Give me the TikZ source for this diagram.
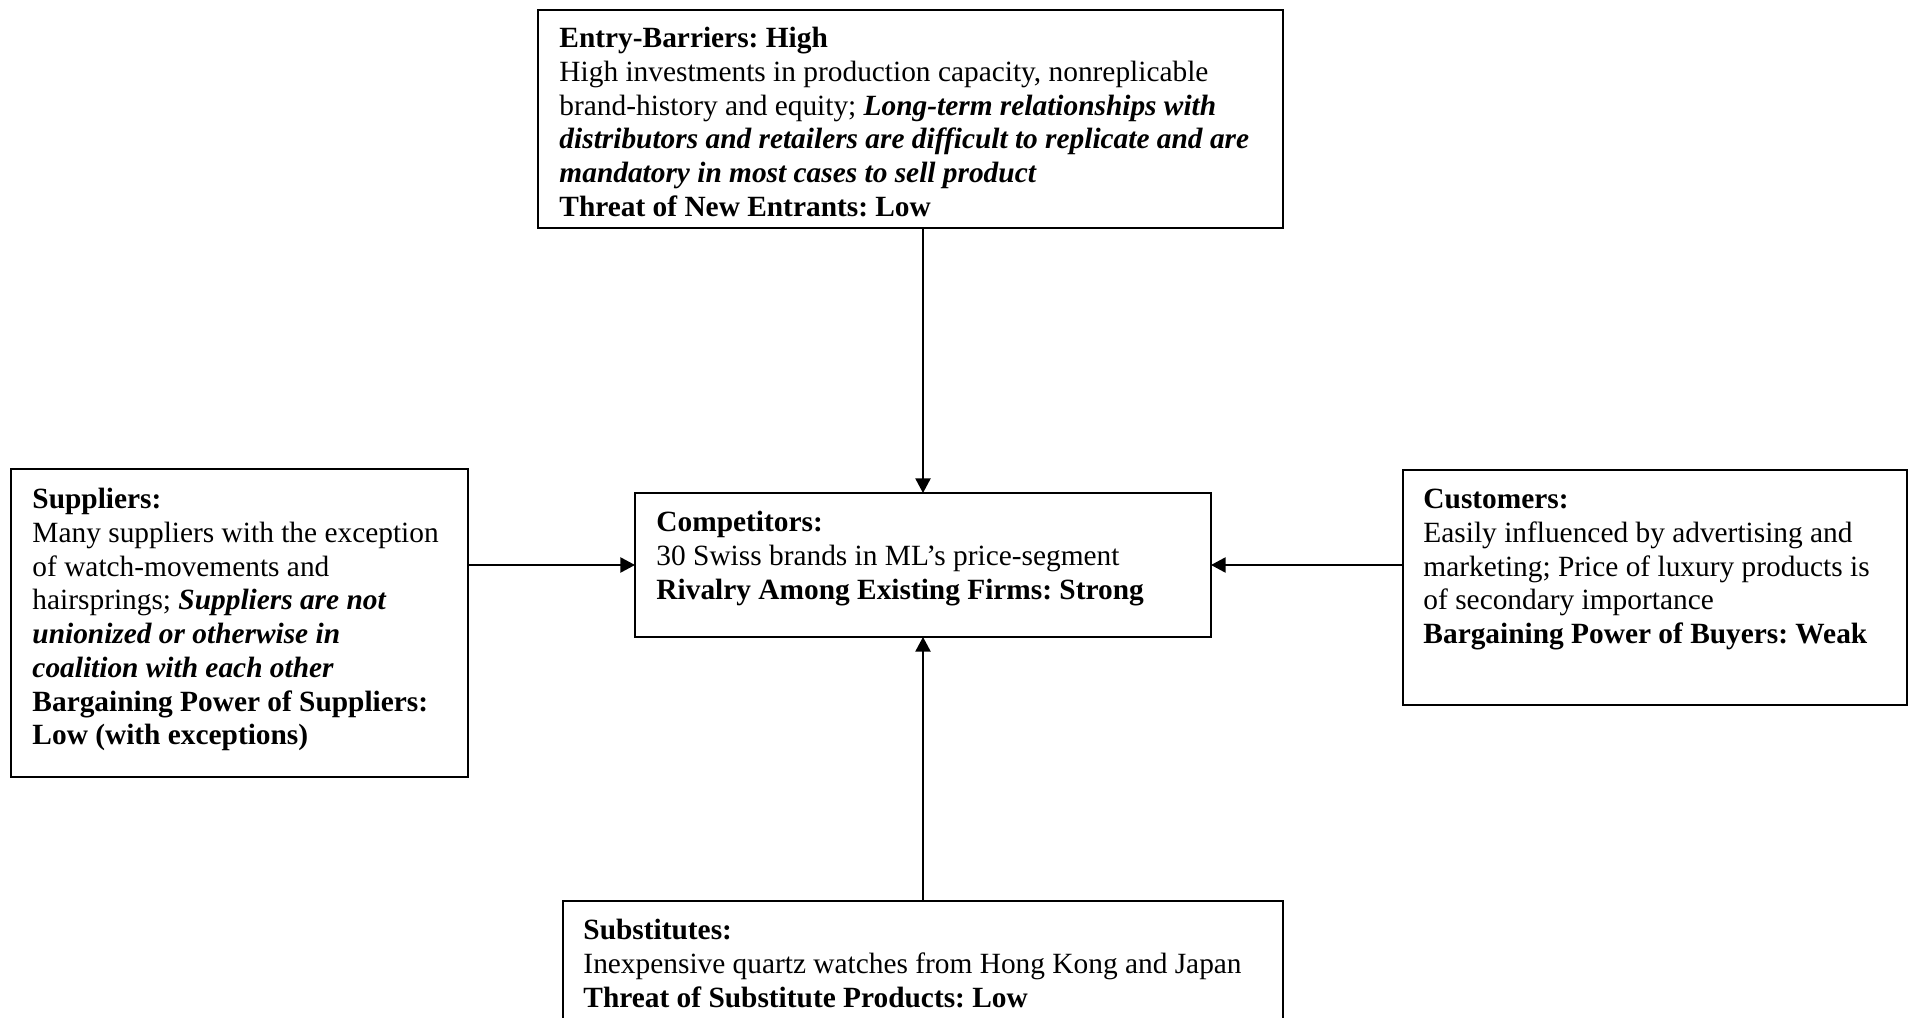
\documentclass[tikz,border=0pt]{standalone}
\usepackage{fontspec}
\setmainfont{Liberation Serif}
\usetikzlibrary{arrows.meta}
\frenchspacing
\begin{document}
\begin{tikzpicture}[x=0.412pt,y=-0.412pt,
  boxshape/.style 2 args={draw=black,line width=1pt,fill=white,outer sep=0pt,inner sep=0pt,
    minimum width={#1*0.412pt},minimum height={#2*0.412pt}},
  boxtext/.style={anchor=north west,inner sep=0pt,align=left,
    font=\fontsize{12.1}{13.9}\selectfont\frenchspacing},
  link/.style={line width=0.8pt,-{Triangle[width=6.2pt,length=6pt]}}
]
\clip (0,0) rectangle (1912,1018);
\fill[white] (0,0) rectangle (1912,1018);

% boxes
\node[boxshape={745}{218}] (ent) at (910.5,119) {};
\node[boxshape={457}{308}] (sup) at (239.5,623) {};
\node[boxshape={576}{144}] (comp) at (923,565) {};
\node[boxshape={504}{235}] (cust) at (1655,587.5) {};
\node[boxshape={720}{160}] (sub) at (923,981) {};

% texts
\node[boxtext] (entT) at ([shift={(21,13.5)}]ent.north west) {\strut\textbf{Entry-Barriers: High}\\
High investments in production capacity, nonreplicable\\
brand-history and equity; \textbf{\textit{Long-term relationships with}}\\
\textbf{\textit{distributors and retailers are difficult to replicate and are}}\\
\textbf{\textit{mandatory in most cases to sell product}}\\
\textbf{Threat of New Entrants: Low}};

\node[boxtext] (supT) at ([shift={(21,15.5)}]sup.north west) {\strut\textbf{Suppliers:}\\
Many suppliers with the exception\\
of watch-movements and\\
hairsprings; \textbf{\textit{Suppliers are not}}\\
\textbf{\textit{unionized or otherwise in}}\\
\textbf{\textit{coalition with each other}}\\
\textbf{Bargaining Power of Suppliers:}\\
\textbf{Low (with exceptions)}};

\node[boxtext] (compT) at ([shift={(21,14.5)}]comp.north west) {\strut\textbf{Competitors:}\\
30 Swiss brands in ML’s price-segment\\
\textbf{Rivalry Among Existing Firms: Strong}};

\node[boxtext] (custT) at ([shift={(20,14.5)}]cust.north west) {\strut\textbf{Customers:}\\
Easily influenced by advertising and\\
marketing; Price of luxury products is\\
of secondary importance\\
\textbf{Bargaining Power of Buyers: Weak}};

\node[boxtext] (subT) at ([shift={(20,14.5)}]sub.north west) {\strut\textbf{Substitutes:}\\
Inexpensive quartz watches from Hong Kong and Japan\\
\textbf{Threat of Substitute Products: Low}};

% connectors
\draw[link] (ent.south -| comp.north) -- (comp.north);
\draw[link] (sub.north -| comp.south) -- (comp.south);
\draw[link] (sup.east |- comp.west) -- (comp.west);
\draw[link] (cust.west |- comp.east) -- (comp.east);
\end{tikzpicture}
\end{document}
